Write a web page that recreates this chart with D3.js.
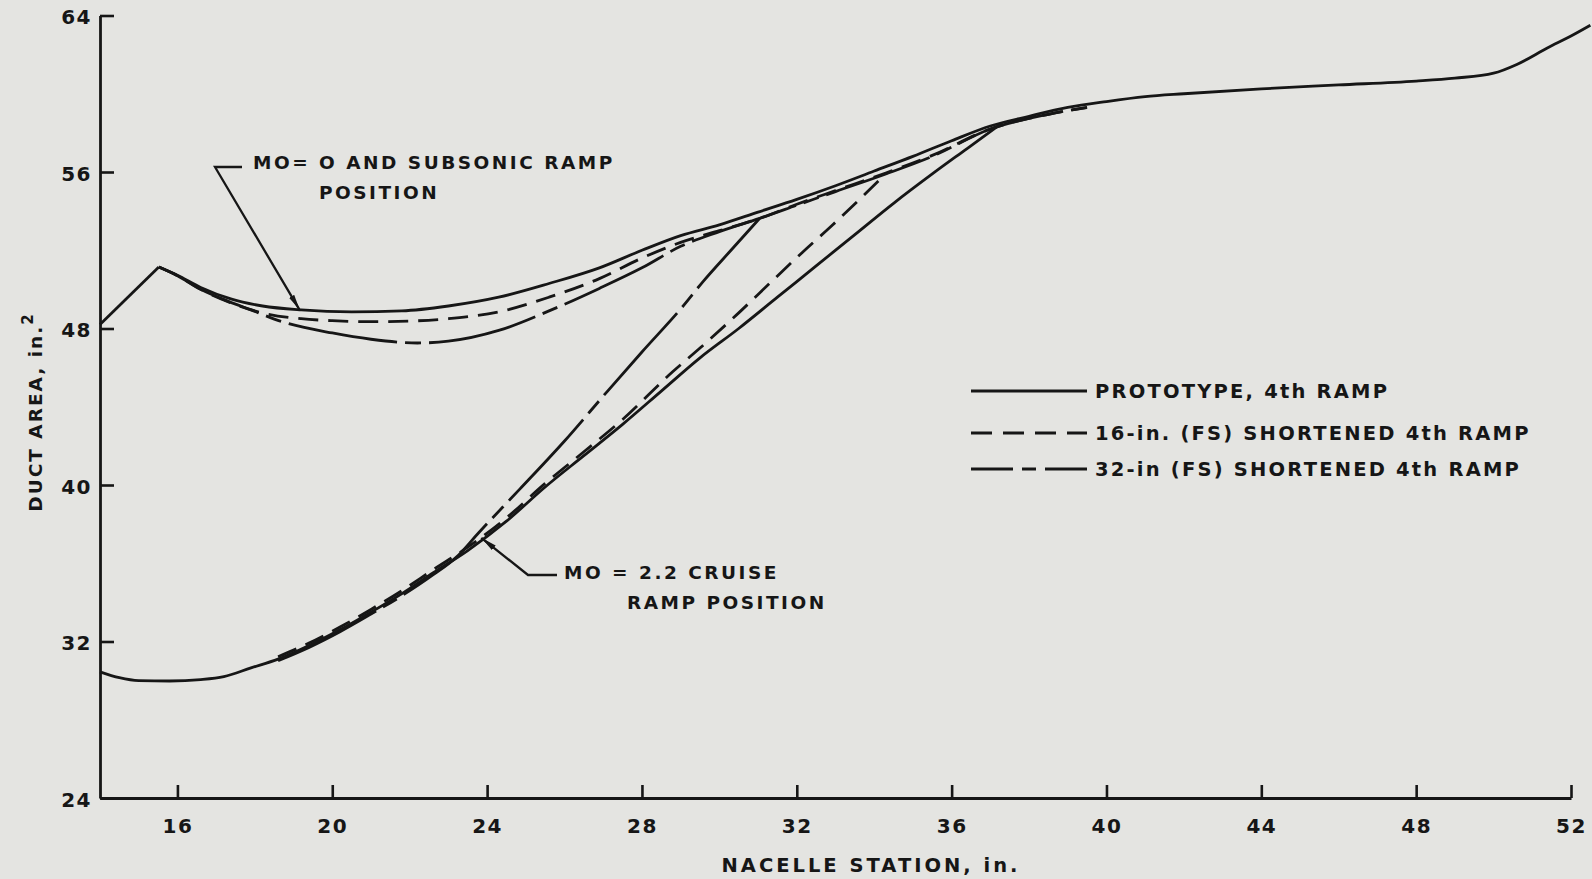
<!DOCTYPE html>
<html>
<head>
<meta charset="utf-8">
<script src="https://cdn.jsdelivr.net/npm/d3@7"></script>
<style>
  body { margin: 0; background: #e4e4e1; }
  svg { display: block; }
</style>
</head>
<body>
<div id="chart"></div>
<script>
// ticks
const xTicks = [16, 20, 24, 28, 32, 36, 40, 44, 48, 52];
const yTicks = [24, 32, 40, 48, 56, 64];

// ramp lip, straight from station 14 up to the peak
const lipLine = [[14.0, 48.2], [15.52, 51.14]];

// prototype 4th ramp, subsonic position (carries the common tail)
const protoSub = [
  [15.52, 51.14], [16.0, 50.72], [16.6, 50.1], [17.4, 49.5], [18.2, 49.15],
  [19.2, 48.95], [20.5, 48.85], [21.8, 48.9], [23.0, 49.15], [24.3, 49.6],
  [25.6, 50.3], [26.9, 51.1], [28.0, 52.0], [29.0, 52.75], [30.0, 53.3],
  [31.0, 53.95], [32.0, 54.6], [33.0, 55.3], [34.0, 56.05], [35.0, 56.8],
  [36.0, 57.6], [37.0, 58.35], [38.0, 58.85], [39.0, 59.3], [40.0, 59.6],
  [41.0, 59.85], [42.0, 60.0], [44.0, 60.25], [46.0, 60.45], [48.0, 60.65],
  [49.0, 60.8], [50.0, 61.05], [50.6, 61.5], [51.4, 62.35], [52.0, 62.95],
  [52.5, 63.5]
];
// prototype 4th ramp, cruise position
const protoCruise = [
  [14.0, 30.45], [14.5, 30.15], [15.0, 30.0], [15.8, 29.98], [16.6, 30.05],
  [17.2, 30.2], [17.9, 30.65], [18.6, 31.1], [19.4, 31.8], [20.2, 32.6],
  [21.0, 33.5], [21.8, 34.45], [22.6, 35.5], [23.5, 36.65], [24.5, 38.15],
  [25.5, 39.9], [26.5, 41.5], [27.5, 43.1], [28.5, 44.8], [29.5, 46.5],
  [30.5, 48.0], [31.5, 49.6], [32.5, 51.2], [33.5, 52.8], [34.5, 54.4],
  [35.5, 55.9], [36.4, 57.2], [37.3, 58.5]
];
// 16-in. (FS) shortened 4th ramp
const fs16Sub = [
  [15.52, 51.14], [16.0, 50.7], [16.6, 50.0], [17.4, 49.3], [18.3, 48.75],
  [19.2, 48.5], [20.0, 48.4], [21.0, 48.35], [22.0, 48.38], [23.0, 48.5],
  [24.3, 48.85], [25.6, 49.6], [26.9, 50.55], [28.0, 51.6], [29.0, 52.4],
  [30.0, 53.0], [31.0, 53.6], [32.0, 54.35], [33.0, 55.05], [34.3, 55.95],
  [35.5, 56.85], [37.0, 58.2], [38.5, 58.95], [39.5, 59.3]
];
const fs16Cruise = [
  [18.6, 31.22], [19.4, 31.92], [20.2, 32.74], [21.0, 33.64], [21.8, 34.6],
  [22.6, 35.66], [23.5, 36.82], [24.5, 38.32], [25.5, 40.08], [26.5, 41.7],
  [27.5, 43.35], [28.8, 45.8], [29.5, 47.0], [30.5, 48.8], [31.4, 50.5],
  [32.15, 51.9], [32.93, 53.3], [33.62, 54.6], [34.32, 55.95]
];
// 32-in (FS) shortened 4th ramp
const fs32Sub = [
  [15.52, 51.14], [16.0, 50.7], [16.6, 50.0], [17.3, 49.4], [17.9, 48.95],
  [18.7, 48.35], [20.0, 47.77], [21.0, 47.45], [22.2, 47.26], [23.0, 47.35],
  [24.3, 47.9], [25.6, 48.9], [26.9, 50.05], [28.0, 51.1], [29.0, 52.2],
  [30.0, 52.95], [31.04, 53.63], [32.0, 54.3], [33.0, 55.0], [34.3, 55.9],
  [35.5, 56.8], [37.0, 58.2], [38.5, 58.95], [39.5, 59.3]
];
const fs32Cruise = [
  [18.6, 31.02], [19.4, 31.7], [20.2, 32.5], [21.0, 33.4], [21.8, 34.34],
  [22.6, 35.4], [23.2, 36.3], [23.8, 37.6], [24.85, 39.8], [26.0, 42.25],
  [27.09, 44.75], [28.0, 46.8], [29.0, 49.0], [29.6, 50.45], [30.3, 52.0],
  [31.04, 53.63]
];

const legendLabels = [
  "PROTOTYPE, 4th RAMP",
  "16-in. (FS) SHORTENED 4th RAMP",
  "32-in (FS) SHORTENED 4th RAMP"
];

const W = 1592, H = 879;
const ink = "#161616";
const font = "'DejaVu Sans', sans-serif";

const svg = d3.select("#chart").append("svg")
  .attr("width", W)
  .attr("height", H);

svg.append("rect").attr("width", W).attr("height", H).attr("fill", "#e4e4e1");

const x = d3.scaleLinear().domain([14, 52]).range([100, 1571]);
const y = d3.scaleLinear().domain([24, 64]).range([798, 15.5]);

// arrow head marker
svg.append("defs").append("marker")
  .attr("id", "arrow")
  .attr("viewBox", "0 0 16 6")
  .attr("refX", 16).attr("refY", 3)
  .attr("markerWidth", 16).attr("markerHeight", 6)
  .attr("markerUnits", "userSpaceOnUse")
  .attr("orient", "auto")
  .append("path")
  .attr("d", "M0,0 L16,3 L0,6 Z")
  .attr("fill", ink);

// axes
const xAxis = d3.axisBottom(x)
  .tickValues(xTicks)
  .tickSizeInner(-13)
  .tickSizeOuter(0)
  .tickPadding(21)
  .tickFormat(d3.format("d"));

const yAxis = d3.axisLeft(y)
  .tickValues(yTicks)
  .tickSizeInner(-14)
  .tickSizeOuter(0)
  .tickPadding(8)
  .tickFormat(d3.format("d"));

const gx = svg.append("g")
  .attr("transform", `translate(0,${y(24)})`)
  .call(xAxis);
const gy = svg.append("g")
  .attr("transform", `translate(${x(14)},0)`)
  .call(yAxis);

[gx, gy].forEach(function (g) {
  g.select(".domain").attr("stroke", ink).attr("stroke-width", 2.8);
  g.selectAll(".tick line").attr("stroke", ink).attr("stroke-width", 2.6);
  g.selectAll(".tick text")
    .attr("fill", ink)
    .style("font-family", font)
    .style("font-weight", "bold")
    .style("font-size", "20px")
    .style("letter-spacing", "1.5px");
});
gy.selectAll(".tick text").attr("dy", "0.4em");

// axis titles
svg.append("text")
  .attr("x", 871).attr("y", 872)
  .attr("text-anchor", "middle")
  .attr("fill", ink)
  .style("font-family", font).style("font-weight", "bold")
  .style("font-size", "19.5px").style("letter-spacing", "3px")
  .text("NACELLE STATION, in.");

const yt = svg.append("text")
  .attr("transform", "translate(42,412) rotate(-90)")
  .attr("text-anchor", "middle")
  .attr("fill", ink)
  .style("font-family", font).style("font-weight", "bold")
  .style("font-size", "18.5px").style("letter-spacing", "2px");
yt.append("tspan").text("DUCT AREA, in.");
yt.append("tspan").attr("dy", -9).style("font-size", "15px").text("2");

// curves
const smooth = d3.line()
  .x(function (d) { return x(d[0]); })
  .y(function (d) { return y(d[1]); })
  .curve(d3.curveMonotoneX);
const straight = d3.line()
  .x(function (d) { return x(d[0]); })
  .y(function (d) { return y(d[1]); });

const series = [
  { data: fs16Sub, dash: "20,10" },
  { data: fs16Cruise, dash: "20,10" },
  { data: fs32Sub, dash: "110,8,16,8" },
  { data: fs32Cruise, dash: "110,8,16,8" },
  { data: protoSub, dash: null },
  { data: protoCruise, dash: null }
];

svg.append("path")
  .attr("d", straight(lipLine))
  .attr("fill", "none").attr("stroke", ink).attr("stroke-width", 2.8);

svg.selectAll("path.curve")
  .data(series)
  .join("path")
  .attr("class", "curve")
  .attr("d", function (d) { return smooth(d.data); })
  .attr("fill", "none")
  .attr("stroke", ink)
  .attr("stroke-width", 2.8)
  .attr("stroke-dasharray", function (d) { return d.dash; });

// annotations
function note(lines, tx, ty, lead, tip) {
  lines.forEach(function (t) {
    svg.append("text")
      .attr("x", t[1] + tx).attr("y", t[2] + ty)
      .attr("fill", ink)
      .style("font-family", font).style("font-weight", "bold")
      .style("font-size", "18.5px").style("letter-spacing", "2.5px")
      .text(t[0]);
  });
  svg.append("path")
    .attr("d", `M${lead[0]},${lead[1]} L${lead[2]},${lead[3]} L${tip[0]},${tip[1]}`)
    .attr("fill", "none").attr("stroke", ink).attr("stroke-width", 2.3)
    .attr("marker-end", "url(#arrow)");
}

note([["MO= O AND SUBSONIC RAMP", 0, 0], ["POSITION", 66, 30]], 253, 169,
  [242, 167, 215, 167], [x(19.16), y(48.94)]);
note([["MO = 2.2 CRUISE", 0, 0], ["RAMP POSITION", 63, 30]], 564, 579,
  [557, 575, 528, 575], [x(23.85), y(37.3)]);

// legend
const legendDash = [null, "21,11", "42,9,14,9"];
const legendY = [391, 433, 469];
const lg = svg.append("g");
legendLabels.forEach(function (t, i) {
  lg.append("line")
    .attr("x1", 971).attr("x2", 1087)
    .attr("y1", legendY[i]).attr("y2", legendY[i])
    .attr("stroke", ink).attr("stroke-width", 2.8)
    .attr("stroke-dasharray", legendDash[i]);
  lg.append("text")
    .attr("x", 1095).attr("y", legendY[i] + 7)
    .attr("fill", ink)
    .style("font-family", font).style("font-weight", "bold")
    .style("font-size", "19.5px").style("letter-spacing", "2.2px")
    .text(t);
});
</script>
</body>
</html>
